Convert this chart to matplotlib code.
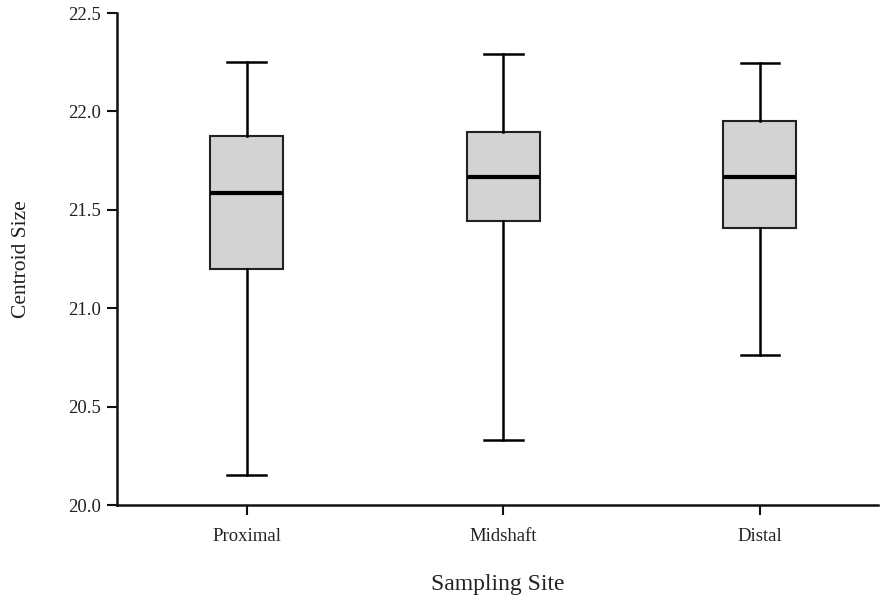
import matplotlib
matplotlib.use("Agg")
import matplotlib.pyplot as plt

categories = ["Proximal", "Midshaft", "Distal"]
whisker_low = [20.15, 20.33, 20.76]
q1 = [21.20, 21.443, 21.41]
median = [21.585, 21.667, 21.667]
q3 = [21.875, 21.895, 21.95]
whisker_high = [22.25, 22.29, 22.245]
yticks = [20.0, 20.5, 21.0, 21.5, 22.0, 22.5]

plt.rcParams['font.family'] = ['Liberation Serif', 'DejaVu Serif']

fig = plt.figure(figsize=(8.82, 6.04), dpi=100)
ax = fig.add_axes([117/882, 1-505/604, (878-117)/882, (505-13)/604])

stats = []
for i, c in enumerate(categories):
    stats.append(dict(label=c, whislo=whisker_low[i], q1=q1[i], med=median[i],
                      q3=q3[i], whishi=whisker_high[i], fliers=[]))

ax.bxp(stats, positions=range(len(categories)), widths=0.284, patch_artist=True,
       showfliers=False,
       boxprops=dict(facecolor='#d3d3d3', edgecolor='#222222', linewidth=1.5),
       medianprops=dict(color='black', linewidth=3),
       whiskerprops=dict(color='black', linewidth=1.8),
       capprops=dict(color='black', linewidth=1.8),
       capwidths=0.15)

ax.set_xlim(-0.505, 2.46)
ax.set_ylim(20.0, 22.5)
ax.set_yticks(yticks)
ax.set_yticklabels([f"{v:.1f}" for v in yticks])
ax.spines['top'].set_visible(False)
ax.spines['right'].set_visible(False)
for s in ['left', 'bottom']:
    ax.spines[s].set_linewidth(1.8)
    ax.spines[s].set_color('#111111')
ax.tick_params(axis='both', direction='out', length=7.5, width=1.5, colors='#111111',
               labelsize=13.5, labelcolor='#222222')
ax.tick_params(axis='y', pad=4)
ax.tick_params(axis='x', pad=9)
ax.set_ylabel("Centroid Size", fontsize=15.5, color='#222222', labelpad=27)
ax.set_xlabel("Sampling Site", fontsize=17, color='#222222', labelpad=21)

fig.savefig("out.png", dpi=100)
